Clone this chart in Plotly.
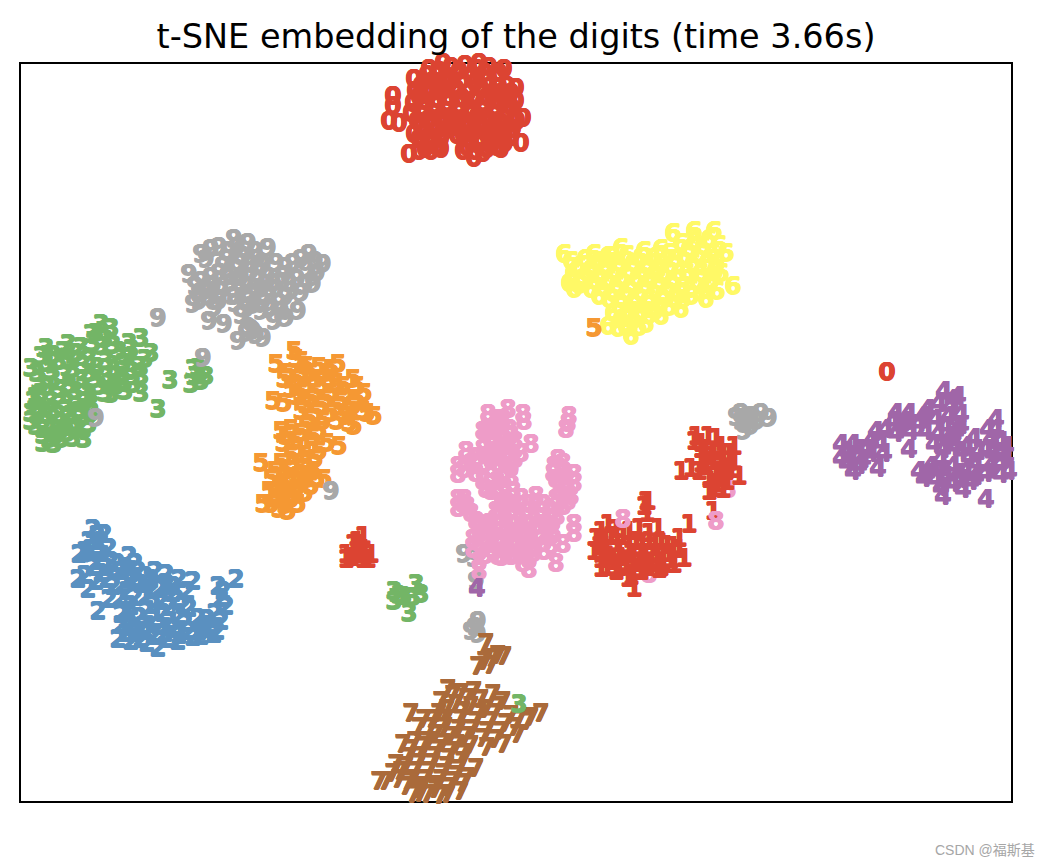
import plotly.graph_objects as go

TITLE = "t-SNE embedding of the digits (time 3.66s)"
WATERMARK = "CSDN @福斯基"

digit_0 = [(392,95),(392,105),(388,120),(398,122),(413,78),(428,68),(442,62),(458,55),(478,62),(490,57),(503,68),(515,87),(515,100),(522,117),(520,142),(500,148),(473,157),(482,152),(408,153),(418,150),(430,150),(440,148),(413,133),
(420,85),(432,80),(445,75),(458,70),(470,75),(484,72),(496,78),(506,85),(418,96),(430,92),(442,90),(455,88),(467,92),(480,88),(492,92),(503,98),(422,108),(434,104),(446,102),(458,104),(470,108),(482,102),(494,106),(506,112),(416,120),(428,118),(440,116),(452,118),(464,120),(476,116),(488,120),(500,122),(512,128),(424,132),(436,130),(448,128),(462,134),(474,130),(486,134),(498,134),(510,136),(428,142),(440,138),(466,146),(478,144),(490,144),(474,150),
(426,74),(438,70),(450,66),(464,64),(476,68),(488,66),(498,72),(414,90),(426,88),(437,86),(449,82),(461,80),(474,82),(486,80),(498,86),(510,92),(412,102),(424,100),(436,98),(448,96),(461,97),(474,98),(486,96),(498,100),(510,106),(410,112),(422,114),(434,112),(446,110),(458,112),(470,114),(482,110),(494,114),(504,118),(516,120),(420,126),(432,124),(444,122),(456,126),(468,126),(480,124),(492,128),(504,130),(418,138),(430,137),(442,132),(456,134),(468,138),(480,138),(492,138),(504,142),(424,148),(436,146),(462,150),(470,140),(486,148),(496,146)]

digit_2 = [(92,528),(103,533),(100,540),(78,553),(108,547),(90,548),(96,560),(110,560),(77,578),(87,588),(100,572),(128,555),(137,570),(118,570),(128,578),(97,610),(112,585),(126,590),(140,583),(165,573),(192,580),(235,578),(217,585),(220,597),(225,605),(188,607),(120,613),(117,638),(157,647),(177,640),(213,633),(220,620),(197,617),(205,628),(150,578),(158,588),(172,585),(145,595),(160,600),(175,598),(130,605),(145,610),(162,612),(178,615),(128,622),(142,625),(158,625),(172,628),(125,632),(140,638),(152,635),(165,638),(188,630),(200,635),(108,598),(135,632),
(96,534),(88,540),(84,550),(98,552),(104,566),(92,566),(84,574),(95,580),(106,578),(116,562),(124,566),(134,562),(122,583),(134,578),(144,575),(154,570),(118,598),(134,596),(150,588),(165,582),(178,578),(152,604),(168,606),(182,604),(124,610),(138,616),(152,618),(168,620),(184,622),(120,624),(134,628),(148,630),(164,632),(178,634),(192,636),(130,640),(146,642),(208,624),(216,630),(206,618),(214,612),(222,590),(198,630),(172,592),(186,590)]

digit_3 = [(100,323),(110,327),(90,333),(140,337),(150,352),(30,367),(45,347),(67,343),(30,420),(32,400),(53,443),(42,442),(72,437),(83,438),(88,423),(90,403),(110,393),(140,392),(132,383),(100,345),(118,350),(130,348),(75,352),(88,358),(105,360),(122,362),(138,365),(45,362),(58,360),(72,368),(88,372),(105,375),(120,375),(130,370),(38,380),(52,378),(68,384),(82,386),(98,385),(115,385),(40,392),(58,395),(75,398),(40,408),(52,410),(65,408),(78,410),(35,425),(48,422),(60,422),(72,422),(42,434),(55,434),(66,432),(169,379),(157,408),
(197,367),(205,375),(190,383),(195,375),(192,368),(200,380),
(393,590),(415,583),(420,593),(393,600),(408,612),(403,595),(412,596),(398,594),
(95,332),(104,338),(92,342),(128,342),(112,344),(62,350),(52,354),(80,346),(40,355),(68,358),(82,364),(96,366),(112,368),(126,356),(144,358),(50,370),(36,372),(64,374),(80,378),(94,378),(108,382),(122,380),(140,375),(46,386),(60,388),(74,390),(88,394),(104,392),(124,390),(34,396),(50,400),(66,402),(84,400),(36,414),(46,414),(58,414),(70,414),(82,416),(42,428),(54,428),(66,426),(78,428),(48,438),(60,438),(36,406),(30,412),(90,412)]

digit_4 = [(943,390),(957,395),(895,412),(908,412),(927,408),(875,430),(840,443),(852,443),(840,457),(852,470),(877,467),(883,452),(908,448),(918,470),(923,477),(942,495),(962,488),(985,498),(995,418),(1018,433),(1015,465),(973,437),(987,428),(1000,473),(960,450),(947,440),(960,413),(933,443),(950,405),(935,418),(918,422),(900,425),(885,428),(945,425),(955,430),(865,448),(850,455),(862,458),(940,458),(952,465),(965,470),(975,462),(985,448),(1000,440),(1005,455),(930,465),(945,475),(960,478),(975,475),(990,465),(935,478),(870,440),
(846,450),(858,448),(846,462),(858,464),(870,452),(880,442),(892,420),(905,420),(922,415),(938,402),(948,415),(952,398),(960,424),(938,432),(925,430),(910,430),(895,432),(950,435),(942,448),(954,445),(966,445),(990,438),(978,450),(992,452),(1005,445),(1012,458),(1000,462),(985,472),(970,480),(952,482),(938,470),(926,472),(940,486),(968,456),(958,472),(1008,470),(995,428),(1002,450)]

digit_5 = [(293,350),(275,363),(337,363),(352,378),(363,392),(373,415),(353,425),(338,445),(318,450),(283,378),(272,400),(283,402),(280,430),(260,462),(262,503),(297,503),(323,478),(287,510),(300,360),(310,372),(325,372),(295,378),(305,385),(320,385),(335,382),(345,392),(295,395),(310,398),(325,398),(340,400),(352,405),(300,410),(315,412),(330,412),(345,415),(305,425),(318,430),(285,435),(295,440),(310,445),(290,455),(305,462),(285,470),(298,475),(312,470),(270,478),(282,482),(295,488),(310,485),(268,490),(280,495),(290,498),
(295,358),(305,365),(318,366),(330,368),(288,372),(300,372),(314,378),(328,378),(342,385),(356,385),(290,388),(300,392),(314,392),(330,392),(356,398),(362,410),(305,404),(320,405),(336,406),(348,410),(308,418),(322,420),(336,420),(348,422),(366,412),(290,428),(312,436),(300,432),(282,442),(326,442),(296,448),(304,454),(314,458),(280,462),(292,464),(300,468),(274,470),(306,474),(278,486),(288,476),(302,480),(316,478),(274,498),(284,504),(270,503),(294,494),(304,492),(278,508)]

digit_6 = [(563,253),(593,253),(607,255),(620,247),(643,250),(660,248),(672,232),(693,230),(713,230),(725,252),(732,285),(705,298),(680,308),(660,315),(645,323),(630,335),(617,327),(607,325),(598,295),(573,288),(568,282),(578,265),(590,268),(604,266),(618,262),(632,262),(646,264),(660,262),(674,258),(688,248),(702,245),(716,262),(580,278),(594,280),(608,278),(622,276),(636,278),(650,276),(664,272),(678,272),(692,262),(706,262),(720,272),(612,292),(626,290),(640,292),(654,288),(668,285),(682,285),(696,280),(710,280),(618,305),(632,304),(646,304),(660,300),(674,298),(690,295),(620,318),(634,318),(648,314),
(570,260),(584,258),(598,260),(612,255),(626,254),(640,256),(654,256),(668,252),(680,242),(694,240),(708,238),(718,244),(572,272),(586,272),(600,272),(614,270),(628,270),(642,270),(656,270),(670,265),(684,255),(698,253),(712,252),(578,284),(590,288),(602,286),(616,284),(630,284),(644,284),(658,280),(672,279),(686,272),(700,272),(714,270),(608,298),(620,298),(634,298),(648,298),(662,294),(676,292),(690,288),(704,288),(716,290),(612,312),(626,312),(640,310),(654,310),(668,306),(625,326),(638,326),(628,310),(682,298)]

digit_9 = [(210,248),(200,253),(233,238),(247,242),(267,247),(308,253),(322,263),(312,283),(188,273),(192,303),(213,307),(208,320),(223,323),(273,320),(285,317),(297,310),(237,340),(252,330),(262,337),(157,317),(228,250),(242,255),(256,258),(275,262),(292,262),(305,268),(222,265),(236,268),(250,270),(266,275),(282,275),(296,278),(200,280),(212,285),(230,282),(245,285),(260,288),(275,288),(290,290),(198,292),(210,296),(232,295),(247,298),(262,300),(278,302),(245,308),(260,310),(250,328),(245,332),
(202,357),(95,417),(330,490),
(740,412),(760,412),(768,417),(740,420),(750,425),(743,430),(750,415),
(463,553),(473,557),(475,580),
(477,620),(470,630),(477,633),(474,626),
(205,258),(218,246),(236,246),(240,262),(254,250),(262,264),(284,266),(300,258),(314,260),(316,272),(304,284),(218,272),(226,258),(240,276),(256,280),(272,282),(288,282),(300,292),(194,285),(204,290),(220,290),(234,302),(218,300),(252,292),(268,294),(284,296),(198,300),(238,288),(240,314),(252,304),(268,308),(226,276),(280,310),(210,276),(248,262),(258,272),(247,326),(255,334),
(748,420),(756,420),(745,416),(735,416)]

digit_7 = [(485,642),(503,655),(492,657),(477,665),(447,688),(473,690),(492,693),(502,700),(410,712),(540,712),(423,718),(402,743),(385,780),(395,763),(475,767),(460,790),(413,793),(447,793),(503,743),(527,720),(517,733),(460,692),(440,700),(455,703),(470,705),(485,708),(432,718),(445,718),(460,718),(475,720),(490,720),(505,722),(518,718),(435,733),(450,735),(465,735),(482,737),(495,738),(410,748),(422,745),(436,748),(450,750),(462,752),(405,765),(418,762),(432,762),(446,765),(458,768),(398,778),(412,778),(425,778),(440,778),(452,780),(420,792),(435,788),
(484,660),(497,654),(490,664),(452,694),(466,697),(480,698),(497,705),(446,708),(462,710),(478,712),(494,712),(510,714),(438,712),(418,726),(430,726),(444,726),(458,728),(472,728),(486,730),(500,730),(514,726),(530,716),(442,742),(456,743),(470,744),(486,746),(428,740),(414,740),(408,756),(420,755),(434,755),(448,757),(462,760),(400,770),(414,770),(428,770),(442,772),(456,774),(466,776),(392,772),(406,785),(420,785),(434,784),(448,786),(462,782),(427,793),(440,794),(418,788),(378,780),(408,780)]

digit_8 = [(507,408),(487,413),(522,413),(487,420),(523,420),(568,415),(567,422),(565,428),(530,443),(465,450),(457,465),(457,473),(482,430),(485,488),(557,458),(553,465),(573,473),(573,482),(457,498),(457,507),(463,498),(475,520),(488,522),(472,538),(472,548),(478,560),(478,570),(497,555),(510,555),(522,562),(528,568),(555,562),(562,543),(573,523),(573,532),(543,550),
(495,425),(508,428),(490,438),(503,440),(514,440),(482,448),(495,450),(508,450),(520,452),(470,462),(483,462),(497,462),(510,465),(475,472),(490,475),(503,478),(497,488),(512,490),(560,470),(555,478),(565,490),(555,498),(562,505),(570,495),(505,500),(520,497),(535,495),(550,510),(495,510),(510,510),(525,510),(540,510),(490,525),(505,525),(520,525),(535,525),(550,525),(485,538),(500,538),(515,540),(530,540),(545,535),(490,548),(505,548),(520,550),(532,552),(466,505),(470,512),
(497,418),(502,418),(486,428),(500,433),(510,434),(492,444),(505,445),(488,455),(500,456),(514,458),(463,468),(476,456),(490,468),(504,470),(482,480),(496,480),(510,476),(490,490),(503,492),(552,472),(566,480),(562,462),(558,488),(567,500),(500,503),(514,503),(528,503),(542,503),(556,515),(498,516),(512,516),(526,516),(540,516),(552,518),(483,530),(496,530),(510,532),(524,532),(538,532),(552,530),(478,542),(492,542),(506,542),(520,544),(534,546),(550,544),(484,554),(500,556),(514,554),(528,558),(462,503),(478,528)]

digit_1 = [(362,535),(352,543),(345,553),(370,553),(358,553),(345,558),(367,558),(360,543),
(607,523),(595,537),(593,550),(600,567),(638,527),(647,500),(643,505),(657,527),(688,523),(678,537),(683,557),(673,563),(633,587),(627,577),(610,535),(622,535),(635,540),(648,540),(660,540),(672,545),(605,548),(618,548),(630,552),(643,552),(656,552),(668,552),(612,560),(625,562),(638,562),(650,562),(662,562),(615,570),(640,570),(658,568),
(693,440),(707,435),(715,437),(733,445),(680,470),(690,467),(700,462),(733,460),(738,475),(713,487),(720,477),(712,510),(700,442),(712,450),(722,455),(705,465),(715,470),(725,470),(708,478),(722,488),(710,455),
(355,550),(363,548),(350,556),(362,558),(356,540),
(600,530),(604,540),(598,545),(615,528),(628,530),(648,532),(600,558),(616,542),(628,544),(641,546),(654,546),(666,544),(678,548),(608,555),(620,556),(632,558),(644,558),(656,558),(670,558),(606,566),(618,566),(632,568),(646,566),(660,566),(630,575),(645,500),(646,512),(700,448),(695,435),(720,445),(728,452),(712,460),(698,470),(720,462),(730,468),(716,482),(708,490),(726,480),(704,448)]

# Sample-by-sample outliers that sit on top of everything else in the reference
outlier_5 = [(593,327)]
outlier_0 = [(886,371)]
outlier_4 = [(476,587)]
outlier_3 = [(518,703)]
outlier_8 = [(622,518),(715,520)]
under_8 = [(648,573),(727,488)]

RED = "#dc4432"
BLUE = "#5a90c0"
GREEN = "#73b566"
PURPLE = "#a066a8"
ORANGE = "#f59833"
YELLOW = "#fff966"
BROWN = "#aa6a3a"
PINK = "#ee9cc8"
GRAY = "#a8a8a8"

# (label, points, colour) in the paint order of the reference
groups = [
    ("0", digit_0, RED), ("2", digit_2, BLUE), ("3", digit_3, GREEN),
    ("5", digit_5, ORANGE), ("6", digit_6, YELLOW), ("9", digit_9, GRAY),
    ("7", digit_7, BROWN), ("4", digit_4, PURPLE), ("8", under_8, PINK),
    ("8", digit_8, PINK), ("1", digit_1, RED),
    ("5", outlier_5, ORANGE), ("0", outlier_0, RED), ("4", outlier_4, PURPLE),
    ("3", outlier_3, GREEN), ("8", outlier_8, PINK),
]

# glyph box vs. visible ink: Plotly paints the digits slightly up and to the left
NUDGE_X, NUDGE_Y = 1, 3

fig = go.Figure()
for label, pts, colour in groups:
    halo = ", ".join(f"{dx}px {dy}px 0.5px {colour}" for dx, dy in
                     [(0.5, 0), (-0.5, 0), (0, 0.5), (0, -0.5)])
    fig.add_trace(go.Scatter(
        x=[p[0] + NUDGE_X for p in pts], y=[p[1] + NUDGE_Y for p in pts],
        mode="text", text=[label] * len(pts), textposition="middle center",
        textfont=dict(family="DejaVu Sans", size=25, color=colour, weight="bold", shadow=halo),
        cliponaxis=False, showlegend=False, hoverinfo="skip",
    ))

axis_style = dict(showgrid=False, zeroline=False, showticklabels=False, ticks="",
                  showline=True, linecolor="black", linewidth=2, mirror=True,
                  layer="below traces")
fig.update_layout(
    width=1044, height=858, autosize=False,
    margin=dict(l=13, r=41, t=56, b=65),
    paper_bgcolor="white", plot_bgcolor="white",
    xaxis=dict(range=[21, 1011], **axis_style),
    yaxis=dict(range=[801, 64], **axis_style),
    title=dict(text=TITLE, x=508 / 1044, xanchor="center", y=1 - 28 / 858, yanchor="middle",
               font=dict(family="DejaVu Sans", size=33.5, color="black")),
)
fig.add_annotation(text=WATERMARK, xref="paper", yref="paper",
                   x=(1037 - 21) / 990, y=(801 - 850) / 737, xanchor="right",
                   yanchor="middle", showarrow=False,
                   font=dict(family="Liberation Sans, Noto Sans CJK SC", size=14, color="#a6a6a6"))
fig.write_html("out.html")
